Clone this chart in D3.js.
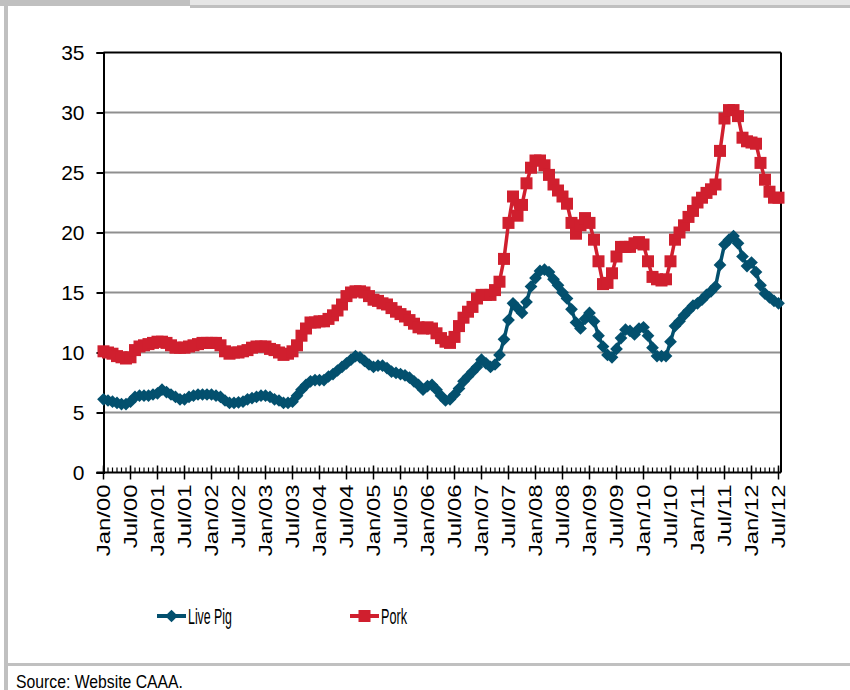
<!DOCTYPE html>
<html>
<head>
<meta charset="utf-8">
<script src="https://cdn.jsdelivr.net/npm/d3@7"></script>
<style>
  body { margin: 0; background: #fff; }
  svg { display: block; }
  text { font-family: "Liberation Sans", Arial, sans-serif; fill: #000; }
</style>
</head>
<body>
<svg id="chart" width="850" height="690"></svg>
<script>
// Monthly prices, Jan 2000 – Jul 2012 (CNY per kg)
const startYear = 2000;
const livePig = [
  6.1, 6.0, 5.9, 5.8, 5.7, 5.7, 5.9, 6.3, 6.4, 6.4, 6.4, 6.5,
  6.6, 6.9, 6.7, 6.5, 6.3, 6.1, 6.1, 6.3, 6.4, 6.5, 6.5, 6.5,
  6.5, 6.4, 6.3, 6.0, 5.8, 5.8, 5.85, 5.9, 6.1, 6.2, 6.3, 6.4,
  6.4, 6.3, 6.1, 6.0, 5.8, 5.8, 5.9, 6.4, 6.9, 7.3, 7.6, 7.7,
  7.7, 7.7, 8.0, 8.2, 8.5, 8.8, 9.1, 9.4, 9.7, 9.6, 9.3, 9.0,
  8.8, 8.9, 8.9, 8.7, 8.4, 8.3, 8.2, 8.1, 7.9, 7.6, 7.3, 6.9,
  7.2, 7.3, 6.9, 6.4, 6.0, 6.1, 6.5, 7.0, 7.6, 8.0, 8.4, 8.8,
  9.4, 9.1, 8.8, 9.0, 9.8, 11.1, 12.7, 14.1, 13.7, 13.3, 14.2, 15.5,
  16.2, 16.8, 16.9, 16.7, 16.1, 15.6, 15.0, 14.5, 13.6, 12.5, 12.0, 12.8,
  13.3, 12.6, 11.4, 10.5, 9.8, 9.6, 10.3, 11.2, 11.9, 11.8, 11.5, 12.0,
  12.1, 11.4, 10.4, 9.7, 9.7, 9.7, 10.9, 12.2, 12.6, 13.1, 13.5, 13.9,
  14.1, 14.4, 14.8, 15.1, 15.5, 17.3, 19.0, 19.4, 19.7, 19.1, 18.0, 17.2,
  17.5, 16.7, 15.6, 14.9, 14.6, 14.3, 14.1
];
const pork = [
  10.1, 10.0, 9.9, 9.7, 9.6, 9.5, 9.6, 10.2, 10.5, 10.6, 10.7, 10.8,
  10.9, 10.9, 10.8, 10.6, 10.4, 10.4, 10.4, 10.5, 10.6, 10.7, 10.8, 10.8,
  10.8, 10.8, 10.6, 10.1, 9.9, 10.0, 10.0, 10.1, 10.2, 10.4, 10.5, 10.5,
  10.5, 10.3, 10.2, 10.0, 9.8, 9.9, 10.1, 10.6, 11.4, 12.0, 12.5, 12.5,
  12.6, 12.6, 12.8, 13.1, 13.5, 14.0, 14.7, 15.0, 15.1, 15.1, 15.0, 14.7,
  14.4, 14.3, 14.1, 14.0, 13.7, 13.4, 13.2, 13.0, 12.7, 12.4, 12.1, 12.0,
  12.1, 12.0, 11.6, 11.2, 10.9, 10.8, 11.3, 12.2, 12.9, 13.4, 13.8, 14.5,
  14.8, 14.8, 14.8, 15.2, 15.9, 17.8, 20.8, 23.0, 21.4, 22.3, 24.1, 25.4,
  26.0, 26.0, 25.6, 24.8, 24.0, 23.5, 23.0, 22.4, 20.8, 19.9, 20.6, 21.2,
  20.8, 19.4, 17.6, 15.7, 15.8, 16.6, 18.0, 18.8, 18.8, 18.8, 19.1, 19.2,
  19.0, 17.6, 16.3, 16.1, 16.0, 16.1, 17.6, 19.4, 20.0, 20.6, 21.3, 21.8,
  22.5, 22.9, 23.3, 23.6, 24.0, 26.8, 29.5, 30.2, 30.2, 29.7, 27.9, 27.6,
  27.5, 27.4, 25.8, 24.4, 23.4, 22.9, 22.9
];
const yTicks = [0, 5, 10, 15, 20, 25, 30, 35];
const monthNames = ["Jan", "Jul"];
const seriesNames = ["Live Pig", "Pork"];
const sourceNote = "Source: Website CAAA.";

const colors = { live: "#03506e", pork: "#d01f2e" };

const svg = d3.select("#chart");

// page frame: header strip, left rule, footer rule
svg.append("rect").attr("x", 0).attr("y", 0).attr("width", 190).attr("height", 6).attr("fill", "#c0c0c0");
svg.append("rect").attr("x", 190).attr("y", 0).attr("width", 660).attr("height", 5).attr("fill", "#e6e6e6");
svg.append("rect").attr("x", 190).attr("y", 5).attr("width", 660).attr("height", 3).attr("fill", "#c0c0c0");
svg.append("rect").attr("x", 4).attr("y", 6).attr("width", 4).attr("height", 684).attr("fill", "#c0c0c0");
svg.append("rect").attr("x", 4).attr("y", 663).attr("width", 846).attr("height", 3).attr("fill", "#c0c0c0");

// plot geometry
const plotL = 103.5, plotR = 781, plotT = 52.5, plotB = 472.5;
const n = livePig.length;
const x = d3.scaleLinear().domain([0, n - 1]).range([plotL, 778.5]);
const y = d3.scaleLinear().domain([0, 35]).range([plotB, plotT]);

// horizontal gridlines
svg.append("g").selectAll("line").data(yTicks.filter(v => v > 0 && v < 35)).join("line")
  .attr("x1", plotL).attr("x2", plotR)
  .attr("y1", d => y(d)).attr("y2", d => y(d))
  .attr("stroke", "#8f8f8f").attr("stroke-width", 2);

// plot frame top and right
svg.append("line").attr("x1", plotL).attr("x2", plotR).attr("y1", plotT).attr("y2", plotT)
  .attr("stroke", "#000").attr("stroke-width", 2);
svg.append("line").attr("x1", plotR).attr("x2", plotR).attr("y1", plotT).attr("y2", plotB)
  .attr("stroke", "#000").attr("stroke-width", 2);

// y axis
const yAxis = d3.axisLeft(y).tickValues(yTicks).tickSize(7).tickPadding(12).tickFormat(d3.format("d"));
const gy = svg.append("g").attr("transform", `translate(${plotL},0)`).call(yAxis);
gy.select(".domain").attr("stroke", "#000").attr("stroke-width", 2);
gy.selectAll(".tick line").attr("stroke", "#000").attr("stroke-width", 2);
gy.selectAll(".tick text").attr("font-size", 21).attr("font-family", "Liberation Sans, Arial, sans-serif")
  .attr("fill", "#000").attr("dy", "0.34em");

// x axis: minor monthly ticks inside, major half-yearly ticks crossing
const gx = svg.append("g");
gx.selectAll("line.minor").data(d3.range(n)).join("line").attr("class", "minor")
  .attr("x1", d => x(d)).attr("x2", d => x(d))
  .attr("y1", plotB - 5).attr("y2", plotB)
  .attr("stroke", "#000").attr("stroke-width", 1.2);
const majors = d3.range(0, n, 6);
gx.selectAll("line.major").data(majors).join("line").attr("class", "major")
  .attr("x1", d => x(d)).attr("x2", d => x(d))
  .attr("y1", plotB - 7).attr("y2", plotB + 7)
  .attr("stroke", "#000").attr("stroke-width", 1.5);
gx.append("line").attr("x1", plotL - 7).attr("x2", plotR).attr("y1", plotB).attr("y2", plotB)
  .attr("stroke", "#000").attr("stroke-width", 2);
gx.selectAll("text").data(majors).join("text")
  .attr("transform", d => `translate(${x(d) + 6.5},${plotB + 12}) rotate(-90) scale(1.33,1)`)
  .attr("text-anchor", "end")
  .attr("font-size", 18)
  .text(d => {
    const yr = startYear + Math.floor(d / 12);
    return `${monthNames[(d % 12) / 6]}/${String(yr % 100).padStart(2, "0")}`;
  });

// series
const line = d3.line().x((d, i) => x(i)).y(d => y(d));
const diamondShape = d3.symbol().type(d3.symbolSquare).size(81);

svg.append("path").datum(livePig).attr("d", line)
  .attr("fill", "none").attr("stroke", colors.live).attr("stroke-width", 3.5);
svg.append("g").selectAll("path").data(livePig).join("path")
  .attr("d", diamondShape)
  .attr("transform", (d, i) => `translate(${x(i)},${y(d)}) rotate(45)`)
  .attr("fill", colors.live);

svg.append("path").datum(pork).attr("d", line)
  .attr("fill", "none").attr("stroke", colors.pork).attr("stroke-width", 3.5);
svg.append("g").selectAll("rect").data(pork).join("rect")
  .attr("x", (d, i) => x(i) - 6).attr("y", d => y(d) - 6)
  .attr("width", 12).attr("height", 12)
  .attr("fill", colors.pork);

// legend
const legend = svg.append("g");
const legendItems = [
  { name: seriesNames[0], x: 157, color: colors.live, shape: "diamond", tl: 44 },
  { name: seriesNames[1], x: 350, color: colors.pork, shape: "square", tl: 26 }
];
const ly = 616;
legendItems.forEach(it => {
  legend.append("line").attr("x1", it.x).attr("x2", it.x + 29).attr("y1", ly).attr("y2", ly)
    .attr("stroke", it.color).attr("stroke-width", 4);
  if (it.shape === "diamond") {
    legend.append("path").attr("d", diamondShape)
      .attr("transform", `translate(${it.x + 14.5},${ly}) rotate(45)`).attr("fill", it.color);
  } else {
    legend.append("rect").attr("x", it.x + 8.5).attr("y", ly - 6).attr("width", 12).attr("height", 12)
      .attr("fill", it.color);
  }
  legend.append("text").attr("x", it.x + 31).attr("y", ly + 7.5)
    .attr("font-size", 22).attr("textLength", it.tl).attr("lengthAdjust", "spacingAndGlyphs")
    .text(it.name);
});

// source note
svg.append("text").attr("x", 16).attr("y", 687.5)
  .attr("font-size", 18.5).attr("textLength", 167).attr("lengthAdjust", "spacingAndGlyphs")
  .text(sourceNote);
</script>
</body>
</html>
